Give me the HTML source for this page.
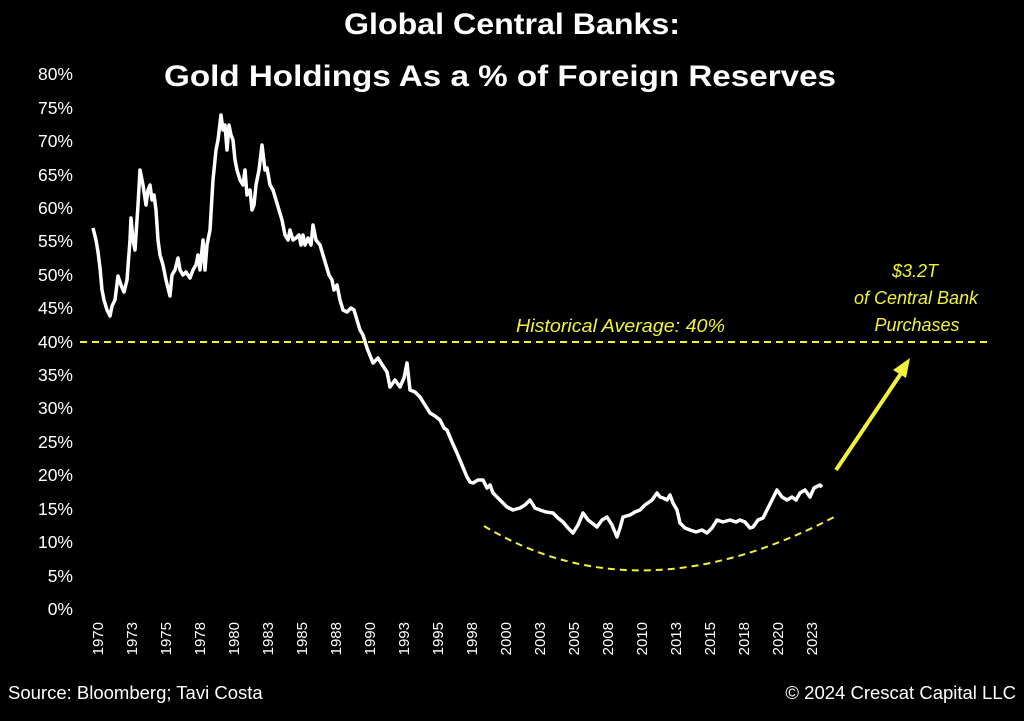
<!DOCTYPE html>
<html><head><meta charset="utf-8"><style>
body{margin:0;background:#000;width:1024px;height:716px;overflow:hidden;font-family:"Liberation Sans",sans-serif}
</style></head><body>
<svg width="1024" height="716" xmlns="http://www.w3.org/2000/svg" font-family="Liberation Sans, sans-serif">
<rect width="1024" height="716" fill="#000"/>
<text x="512" y="34" fill="#fff" font-size="30" font-weight="bold" text-anchor="middle" textLength="336" lengthAdjust="spacingAndGlyphs">Global Central Banks:</text>
<text x="500" y="86" fill="#fff" font-size="30" font-weight="bold" text-anchor="middle" textLength="672" lengthAdjust="spacingAndGlyphs">Gold Holdings As a % of Foreign Reserves</text>
<g fill="#fff" font-size="17.5" text-anchor="end">
<text x="73" y="80">80%</text><text x="73" y="114">75%</text><text x="73" y="147">70%</text><text x="73" y="181">65%</text><text x="73" y="214">60%</text><text x="73" y="247">55%</text><text x="73" y="281">50%</text><text x="73" y="314">45%</text><text x="73" y="348">40%</text><text x="73" y="381">35%</text><text x="73" y="414">30%</text><text x="73" y="448">25%</text><text x="73" y="481">20%</text><text x="73" y="515">15%</text><text x="73" y="548">10%</text><text x="73" y="582">5%</text><text x="73" y="615">0%</text>
</g>
<g fill="#fff" font-size="15" text-anchor="end">
<text transform="translate(103,622) rotate(-90)">1970</text>
<text transform="translate(137,622) rotate(-90)">1973</text>
<text transform="translate(171,622) rotate(-90)">1975</text>
<text transform="translate(205,622) rotate(-90)">1978</text>
<text transform="translate(239,622) rotate(-90)">1980</text>
<text transform="translate(273,622) rotate(-90)">1983</text>
<text transform="translate(307,622) rotate(-90)">1985</text>
<text transform="translate(341,622) rotate(-90)">1988</text>
<text transform="translate(375,622) rotate(-90)">1990</text>
<text transform="translate(409,622) rotate(-90)">1993</text>
<text transform="translate(443,622) rotate(-90)">1995</text>
<text transform="translate(477,622) rotate(-90)">1998</text>
<text transform="translate(511,622) rotate(-90)">2000</text>
<text transform="translate(545,622) rotate(-90)">2003</text>
<text transform="translate(579,622) rotate(-90)">2005</text>
<text transform="translate(613,622) rotate(-90)">2008</text>
<text transform="translate(647,622) rotate(-90)">2010</text>
<text transform="translate(681,622) rotate(-90)">2013</text>
<text transform="translate(715,622) rotate(-90)">2015</text>
<text transform="translate(749,622) rotate(-90)">2018</text>
<text transform="translate(783,622) rotate(-90)">2020</text>
<text transform="translate(817,622) rotate(-90)">2023</text>
</g>
<line x1="80" y1="342" x2="990" y2="342" stroke="#f2f23a" stroke-width="2" stroke-dasharray="7,5"/>
<text x="516" y="332" fill="#f2f23a" font-size="18" font-style="italic" textLength="209" lengthAdjust="spacingAndGlyphs">Historical Average: 40%</text>
<path d="M484,526 Q640,620 838,515" fill="none" stroke="#f2f23a" stroke-width="2" stroke-dasharray="7,5"/>
<line x1="836" y1="470" x2="902" y2="372" stroke="#f2f23a" stroke-width="4"/>
<polygon points="910,358 893,370 906,378" fill="#f2f23a"/>
<g fill="#f2f23a" font-size="18" font-style="italic" text-anchor="middle">
<text x="915" y="277">$3.2T</text><text x="916" y="304">of Central Bank</text><text x="917" y="331">Purchases</text>
</g>
<polyline fill="none" stroke="#fff" stroke-width="3.5" stroke-linejoin="round" points="93,228 96,240 98,252 100,268 102,290 104,300 107,310 110,316 112,306 115,300 118,276 121,285 124,292 127,280 130,240 131,218 133,240 135,250 138,205 140,170 143,185 146,205 148,190 150,185 152,200 154,195 156,210 158,240 160,255 163,265 166,280 170,296 172,275 175,270 178,258 180,270 183,275 186,272 190,278 193,270 196,265 198,255 200,270 203,240 205,270 207,245 210,230 213,180 216,150 218,140 221,115 223,130 225,125 227,150 229,125 231,135 233,140 235,160 237,170 240,180 243,185 245,170 247,195 250,190 252,210 254,205 256,185 259,170 262,145 265,170 267,168 270,185 273,190 276,200 279,210 282,220 285,235 288,240 290,230 293,240 296,238 299,235 301,245 303,235 305,245 308,238 311,245 313,225 316,240 320,245 323,255 326,265 329,275 332,280 334,290 337,285 340,300 343,310 347,312 351,308 354,310 357,320 360,330 363,335 367,348 373,363 378,358 383,366 387,372 390,387 395,380 400,387 404,378 407,363 410,390 415,392 420,397 425,405 430,413 435,416 440,420 444,428 447,430 452,442 457,453 462,465 467,477 470,482 473,483 478,480 483,480 487,488 490,485 493,493 500,500 507,507 513,510 520,508 525,505 530,500 535,508 540,510 546,512 553,513 558,518 563,522 568,528 573,533 578,525 583,513 588,520 592,523 597,527 602,520 607,517 612,525 617,537 620,528 623,517 630,515 635,512 640,510 645,505 652,500 657,493 660,497 663,498 667,500 670,495 673,503 677,510 680,523 685,528 690,530 696,532 702,530 707,533 712,528 717,520 723,522 730,520 736,522 740,520 745,522 750,528 753,527 758,520 763,518 767,510 772,500 777,490 782,497 787,500 792,497 796,500 800,493 805,490 810,497 814,488 820,485 822,487"/>
<text x="8" y="699" fill="#fff" font-size="18.5">Source: Bloomberg; Tavi Costa</text>
<text x="1016" y="699" fill="#fff" font-size="18.5" text-anchor="end">© 2024 Crescat Capital LLC</text>
</svg>
</body></html>
